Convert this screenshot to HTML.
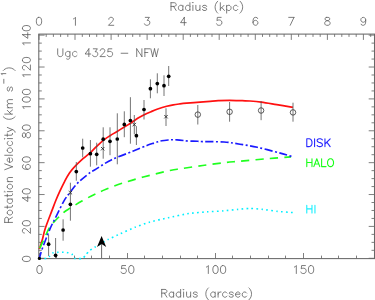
<!DOCTYPE html>
<html><head><meta charset="utf-8"><title>Ugc 4325 - NFW</title>
<style>
html,body{margin:0;padding:0;background:#fff;}
body{width:375px;height:300px;overflow:hidden;position:relative;font-family:"Liberation Sans",sans-serif;}
svg text{font-family:"Liberation Sans",sans-serif;stroke:#fff;stroke-width:0.3px;}
</style></head><body>
<svg width="375" height="300" viewBox="0 0 375 300" style="position:absolute;left:0;top:0">
<rect x="0" y="0" width="375" height="300" fill="#fff"/>
<rect x="38.8" y="34.1" width="335.7" height="224.5" fill="none" stroke="#686868" stroke-width="1.05"/>
<path d="M39.5 258.6 v-5.6 M56.5 258.6 v-3.0 M74.5 258.6 v-3.0 M91.5 258.6 v-3.0 M109.5 258.6 v-3.0 M127.5 258.6 v-5.6 M144.5 258.6 v-3.0 M162.5 258.6 v-3.0 M180.5 258.6 v-3.0 M197.5 258.6 v-3.0 M215.5 258.6 v-5.6 M232.5 258.6 v-3.0 M250.5 258.6 v-3.0 M268.5 258.6 v-3.0 M285.5 258.6 v-3.0 M303.5 258.6 v-5.6 M321.5 258.6 v-3.0 M338.5 258.6 v-3.0 M356.5 258.6 v-3.0 M374.5 258.6 v-3.0 M39.0 34.10 v5.8 M46.2 34.10 v2.8 M53.4 34.10 v2.8 M60.6 34.10 v2.8 M67.8 34.10 v2.8 M75.0 34.10 v5.8 M82.3 34.10 v2.8 M89.5 34.10 v2.8 M96.7 34.10 v2.8 M103.9 34.10 v2.8 M111.1 34.10 v5.8 M118.3 34.10 v2.8 M125.5 34.10 v2.8 M132.7 34.10 v2.8 M139.9 34.10 v2.8 M147.1 34.10 v5.8 M154.4 34.10 v2.8 M161.6 34.10 v2.8 M168.8 34.10 v2.8 M176.0 34.10 v2.8 M183.2 34.10 v5.8 M190.4 34.10 v2.8 M197.6 34.10 v2.8 M204.8 34.10 v2.8 M212.0 34.10 v2.8 M219.2 34.10 v5.8 M226.5 34.10 v2.8 M233.7 34.10 v2.8 M240.9 34.10 v2.8 M248.1 34.10 v2.8 M255.3 34.10 v5.8 M262.5 34.10 v2.8 M269.7 34.10 v2.8 M276.9 34.10 v2.8 M284.1 34.10 v2.8 M291.3 34.10 v5.8 M298.6 34.10 v2.8 M305.8 34.10 v2.8 M313.0 34.10 v2.8 M320.2 34.10 v2.8 M327.4 34.10 v5.8 M334.6 34.10 v2.8 M341.8 34.10 v2.8 M349.0 34.10 v2.8 M356.2 34.10 v2.8 M363.4 34.10 v5.8 M370.7 34.10 v2.8 M38.80 258.30 h5.8 M374.50 258.30 h-5.8 M38.80 250.33 h3.0 M374.50 250.33 h-3.0 M38.80 242.36 h3.0 M374.50 242.36 h-3.0 M38.80 234.39 h3.0 M374.50 234.39 h-3.0 M38.80 226.42 h5.8 M374.50 226.42 h-5.8 M38.80 218.45 h3.0 M374.50 218.45 h-3.0 M38.80 210.48 h3.0 M374.50 210.48 h-3.0 M38.80 202.51 h3.0 M374.50 202.51 h-3.0 M38.80 194.54 h5.8 M374.50 194.54 h-5.8 M38.80 186.57 h3.0 M374.50 186.57 h-3.0 M38.80 178.60 h3.0 M374.50 178.60 h-3.0 M38.80 170.63 h3.0 M374.50 170.63 h-3.0 M38.80 162.66 h5.8 M374.50 162.66 h-5.8 M38.80 154.69 h3.0 M374.50 154.69 h-3.0 M38.80 146.72 h3.0 M374.50 146.72 h-3.0 M38.80 138.75 h3.0 M374.50 138.75 h-3.0 M38.80 130.78 h5.8 M374.50 130.78 h-5.8 M38.80 122.81 h3.0 M374.50 122.81 h-3.0 M38.80 114.84 h3.0 M374.50 114.84 h-3.0 M38.80 106.87 h3.0 M374.50 106.87 h-3.0 M38.80 98.90 h5.8 M374.50 98.90 h-5.8 M38.80 90.93 h3.0 M374.50 90.93 h-3.0 M38.80 82.96 h3.0 M374.50 82.96 h-3.0 M38.80 74.99 h3.0 M374.50 74.99 h-3.0 M38.80 67.02 h5.8 M374.50 67.02 h-5.8 M38.80 59.05 h3.0 M374.50 59.05 h-3.0 M38.80 51.08 h3.0 M374.50 51.08 h-3.0 M38.80 43.11 h3.0 M374.50 43.11 h-3.0 M38.80 35.14 h5.8 M374.50 35.14 h-5.8" stroke="#686868" stroke-width="0.85" fill="none"/>
<path d="M39.30 248.80 C39.43 248.50 39.55 248.68 40.10 247.00 C40.65 245.32 41.72 241.87 42.60 238.70 C43.48 235.53 43.83 232.72 45.40 228.00 C46.97 223.28 50.23 215.07 52.00 210.40 C53.77 205.73 54.67 203.25 56.00 200.00 C57.33 196.75 58.55 194.02 60.00 190.90 C61.45 187.78 63.15 184.23 64.70 181.30 C66.25 178.37 67.63 175.73 69.30 173.30 C70.97 170.87 72.42 169.13 74.70 166.70 C76.98 164.27 80.33 161.10 83.00 158.70 C85.67 156.30 88.42 154.37 90.70 152.30 C92.98 150.23 94.60 148.30 96.70 146.30 C98.80 144.30 101.08 142.07 103.30 140.30 C105.52 138.53 107.77 137.13 110.00 135.70 C112.23 134.27 114.32 133.15 116.70 131.70 C119.08 130.25 121.92 128.45 124.30 127.00 C126.68 125.55 128.77 124.45 131.00 123.00 C133.23 121.55 135.58 119.63 137.70 118.30 C139.82 116.97 141.48 116.10 143.70 115.00 C145.92 113.90 148.67 112.70 151.00 111.70 C153.33 110.70 155.08 109.92 157.70 109.00 C160.32 108.08 164.10 106.90 166.70 106.20 C169.30 105.50 171.08 105.18 173.30 104.80 C175.52 104.42 177.77 104.17 180.00 103.90 C182.23 103.63 183.37 103.50 186.70 103.20 C190.03 102.90 196.12 102.42 200.00 102.10 C203.88 101.78 206.95 101.53 210.00 101.30 C213.05 101.07 215.02 100.87 218.30 100.70 C221.58 100.53 225.70 100.30 229.70 100.30 C233.70 100.30 238.92 100.58 242.30 100.70 C245.68 100.82 246.83 100.77 250.00 101.00 C253.17 101.23 256.85 101.50 261.30 102.10 C265.75 102.70 271.43 103.73 276.70 104.60 C281.97 105.47 290.20 106.85 292.90 107.30" fill="none" stroke="#ff1010" stroke-width="1.7" stroke-linejoin="round"/>
<path d="M39.50 248.60 C40.08 247.38 41.90 243.67 43.00 241.30 C44.10 238.93 45.05 236.62 46.10 234.40 C47.15 232.18 48.18 229.87 49.30 228.00 C50.42 226.13 50.48 225.73 52.80 223.20 C55.12 220.67 60.27 215.33 63.20 212.80 C66.13 210.27 67.20 210.00 70.40 208.00 C73.60 206.00 78.40 203.07 82.40 200.80 C86.40 198.53 90.47 196.32 94.40 194.40 C98.33 192.48 101.40 191.15 106.00 189.30 C110.60 187.45 115.78 185.35 122.00 183.30 C128.22 181.25 135.30 179.13 143.30 177.00 C151.30 174.87 163.67 171.88 170.00 170.50 C176.33 169.12 175.85 169.53 181.30 168.70 C186.75 167.87 195.58 166.50 202.70 165.50 C209.82 164.50 217.73 163.42 224.00 162.70 C230.27 161.98 232.97 161.88 240.30 161.20 C247.63 160.52 259.55 159.32 268.00 158.60 C276.45 157.88 287.17 157.18 291.00 156.90" fill="none" stroke="#1fff1f" stroke-width="1.65" stroke-dasharray="8.2 6.2" stroke-dashoffset="-0.6"/>
<path d="M39.50 258.00 C39.98 256.38 40.58 253.30 42.40 248.30 C44.22 243.30 48.00 233.52 50.40 228.00 C52.80 222.48 54.53 219.73 56.80 215.20 C59.07 210.67 61.73 204.67 64.00 200.80 C66.27 196.93 68.07 195.02 70.40 192.00 C72.73 188.98 74.73 185.92 78.00 182.70 C81.27 179.48 87.25 174.82 90.00 172.70 C92.75 170.58 90.95 172.13 94.50 170.00 C98.05 167.87 104.93 163.02 111.30 159.90 C117.67 156.78 126.68 153.73 132.70 151.30 C138.72 148.87 143.88 146.67 147.40 145.30 C150.92 143.93 152.07 143.68 153.80 143.10 C155.53 142.52 156.47 142.20 157.80 141.80 C159.13 141.40 159.93 141.02 161.80 140.70 C163.67 140.38 167.22 140.07 169.00 139.90 C170.78 139.73 171.17 139.70 172.50 139.70 C173.83 139.70 175.18 139.77 177.00 139.90 C178.82 140.03 181.67 140.32 183.40 140.50 C185.13 140.68 185.00 140.87 187.40 141.00 C189.80 141.13 195.25 141.20 197.80 141.30 C200.35 141.40 198.33 141.48 202.70 141.60 C207.07 141.72 217.78 141.57 224.00 142.00 C230.22 142.43 234.45 143.32 240.00 144.20 C245.55 145.08 250.85 145.88 257.30 147.30 C263.75 148.72 272.92 151.17 278.70 152.70 C284.48 154.23 289.78 155.87 292.00 156.50" fill="none" stroke="#1a1aff" stroke-width="1.65" stroke-dasharray="8 2.5 2 2.5" stroke-dashoffset="1.4"/>
<path d="M39.00 258.40 C39.62 258.40 45.65 258.54 46.50 258.40 C47.35 258.26 48.71 257.14 49.20 256.70 C49.69 256.26 51.73 253.46 52.40 253.10 C53.07 252.74 56.40 252.47 57.20 252.40 C58.00 252.33 61.20 252.20 62.00 252.20 C62.80 252.20 65.98 252.25 66.80 252.40 C67.62 252.55 71.17 253.51 71.80 254.00 C72.43 254.49 73.78 257.92 74.40 258.30 C75.02 258.68 78.57 258.58 79.20 258.60 C79.83 258.62 81.63 258.58 82.00 258.50 C82.37 258.42 83.27 257.94 83.60 257.60 C83.93 257.26 85.47 255.00 86.00 254.40 C86.53 253.80 89.27 251.00 90.00 250.40 C90.73 249.80 93.30 248.11 94.80 247.20 C96.30 246.29 105.86 240.62 108.00 239.50 C110.14 238.38 118.25 234.72 120.50 233.70 C122.75 232.68 132.60 228.26 135.00 227.30 C137.40 226.34 146.52 223.00 149.30 222.20 C152.08 221.40 165.12 218.42 168.40 217.70 C171.68 216.97 185.41 213.99 188.70 213.50 C191.99 213.01 205.03 212.02 207.90 211.80 C210.78 211.58 220.68 211.10 223.20 210.90 C225.72 210.70 235.88 209.61 238.10 209.40 C240.32 209.19 247.85 208.40 249.90 208.40 C251.95 208.40 260.39 209.15 262.70 209.40 C265.01 209.65 275.07 211.13 277.60 211.40 C280.13 211.67 291.81 212.50 293.10 212.60" fill="none" stroke="#00f0ff" stroke-width="1.6" stroke-dasharray="1.7 3.26" stroke-dashoffset="-0.4"/>
<line x1="48.6" y1="234.7" x2="48.6" y2="256.0" stroke="#505050" stroke-width="0.8"/>
<line x1="55.6" y1="238.0" x2="55.6" y2="258.0" stroke="#505050" stroke-width="0.8"/>
<line x1="63.1" y1="219.3" x2="63.1" y2="240.7" stroke="#505050" stroke-width="0.8"/>
<line x1="70.4" y1="182.7" x2="70.4" y2="220.7" stroke="#505050" stroke-width="0.8"/>
<line x1="76.3" y1="162.0" x2="76.3" y2="180.7" stroke="#505050" stroke-width="0.8"/>
<line x1="82.7" y1="138.7" x2="82.7" y2="157.3" stroke="#505050" stroke-width="0.8"/>
<line x1="90.4" y1="140.0" x2="90.4" y2="166.7" stroke="#505050" stroke-width="0.8"/>
<line x1="96.7" y1="142.7" x2="96.7" y2="165.3" stroke="#505050" stroke-width="0.8"/>
<line x1="103.2" y1="127.3" x2="103.2" y2="158.7" stroke="#505050" stroke-width="0.8"/>
<line x1="110.0" y1="127.3" x2="110.0" y2="155.2" stroke="#505050" stroke-width="0.8"/>
<line x1="117.3" y1="113.3" x2="117.3" y2="164.3" stroke="#505050" stroke-width="0.8"/>
<line x1="124.3" y1="111.3" x2="124.3" y2="137.2" stroke="#505050" stroke-width="0.8"/>
<line x1="130.4" y1="97.2" x2="130.4" y2="143.7" stroke="#505050" stroke-width="0.8"/>
<line x1="136.4" y1="126.3" x2="136.4" y2="145.0" stroke="#505050" stroke-width="0.8"/>
<line x1="144.0" y1="100.0" x2="144.0" y2="119.5" stroke="#505050" stroke-width="0.8"/>
<line x1="150.4" y1="79.3" x2="150.4" y2="98.3" stroke="#505050" stroke-width="0.8"/>
<line x1="157.3" y1="73.3" x2="157.3" y2="93.3" stroke="#505050" stroke-width="0.8"/>
<line x1="164.0" y1="75.3" x2="164.0" y2="96.0" stroke="#505050" stroke-width="0.8"/>
<line x1="168.7" y1="66.0" x2="168.7" y2="86.0" stroke="#505050" stroke-width="0.8"/>
<line x1="134.3" y1="115.0" x2="134.3" y2="134.3" stroke="#505050" stroke-width="0.8"/>
<line x1="166.0" y1="108.3" x2="166.0" y2="126.0" stroke="#505050" stroke-width="0.8"/>
<line x1="197.8" y1="105.0" x2="197.8" y2="124.5" stroke="#505050" stroke-width="0.8"/>
<line x1="229.6" y1="102.0" x2="229.6" y2="121.7" stroke="#505050" stroke-width="0.8"/>
<line x1="261.1" y1="101.2" x2="261.1" y2="120.2" stroke="#505050" stroke-width="0.8"/>
<line x1="293.0" y1="102.7" x2="293.0" y2="121.7" stroke="#505050" stroke-width="0.8"/>
<circle cx="39.4" cy="258.4" r="1.6" fill="#000"/>
<circle cx="48.6" cy="244.2" r="1.85" fill="#000"/>
<circle cx="55.6" cy="255.3" r="1.85" fill="#000"/>
<circle cx="63.1" cy="230.0" r="1.85" fill="#000"/>
<circle cx="70.4" cy="204.3" r="1.85" fill="#000"/>
<circle cx="76.3" cy="171.6" r="1.85" fill="#000"/>
<circle cx="82.7" cy="148.0" r="1.85" fill="#000"/>
<circle cx="90.4" cy="153.7" r="1.85" fill="#000"/>
<circle cx="96.7" cy="154.3" r="1.85" fill="#000"/>
<circle cx="103.2" cy="139.2" r="1.85" fill="#000"/>
<circle cx="110.0" cy="141.3" r="1.85" fill="#000"/>
<circle cx="117.3" cy="139.0" r="1.85" fill="#000"/>
<circle cx="124.3" cy="124.4" r="1.85" fill="#000"/>
<circle cx="130.4" cy="120.5" r="1.85" fill="#000"/>
<circle cx="136.4" cy="135.7" r="1.85" fill="#000"/>
<circle cx="144.0" cy="109.5" r="1.85" fill="#000"/>
<circle cx="150.4" cy="88.7" r="1.85" fill="#000"/>
<circle cx="157.3" cy="83.6" r="1.85" fill="#000"/>
<circle cx="164.0" cy="85.7" r="1.85" fill="#000"/>
<circle cx="168.7" cy="76.3" r="1.85" fill="#000"/>
<path d="M68.7 191.0 L72.1 194.4 M68.7 194.4 L72.1 191.0" stroke="#222" stroke-width="0.85" fill="none"/>
<path d="M101.0 147.0 L104.4 150.4 M101.0 150.4 L104.4 147.0" stroke="#222" stroke-width="0.85" fill="none"/>
<path d="M132.6 122.9 L136.0 126.3 M132.6 126.3 L136.0 122.9" stroke="#222" stroke-width="0.85" fill="none"/>
<path d="M164.3 115.0 L167.7 118.4 M164.3 118.4 L167.7 115.0" stroke="#222" stroke-width="0.85" fill="none"/>
<circle cx="197.8" cy="114.6" r="2.75" fill="none" stroke="#333" stroke-width="0.8"/>
<circle cx="229.6" cy="111.8" r="2.75" fill="none" stroke="#333" stroke-width="0.8"/>
<circle cx="261.1" cy="110.5" r="2.75" fill="none" stroke="#333" stroke-width="0.8"/>
<circle cx="293.0" cy="112.4" r="2.75" fill="none" stroke="#333" stroke-width="0.8"/>
<line x1="101.6" y1="258" x2="101.6" y2="244" stroke="#444" stroke-width="0.8"/>
<path d="M101.6 236.0 L106.2 247.1 L101.6 244 L97.0 247.1 Z" fill="#000"/>
<path transform="translate(39.00 25.30)" d="M-0.38 -7.94 L-1.51 -7.56 L-2.27 -6.43 L-2.65 -4.54 L-2.65 -3.40 L-2.27 -1.51 L-1.51 -0.38 L-0.38 -0.00 L0.38 -0.00 L1.51 -0.38 L2.27 -1.51 L2.65 -3.40 L2.65 -4.54 L2.27 -6.43 L1.51 -7.56 L0.38 -7.94 L-0.38 -7.94" fill="none" stroke="#585858" stroke-width="0.78" stroke-linecap="round" stroke-linejoin="round"/>
<path transform="translate(75.05 25.30)" d="M-1.51 -6.43 L-0.76 -6.80 L0.38 -7.94 L0.38 -0.00" fill="none" stroke="#585858" stroke-width="0.78" stroke-linecap="round" stroke-linejoin="round"/>
<path transform="translate(111.10 25.30)" d="M-2.27 -6.05 L-2.27 -6.43 L-1.89 -7.18 L-1.51 -7.56 L-0.76 -7.94 L0.76 -7.94 L1.51 -7.56 L1.89 -7.18 L2.27 -6.43 L2.27 -5.67 L1.89 -4.91 L1.13 -3.78 L-2.65 -0.00 L2.65 -0.00" fill="none" stroke="#585858" stroke-width="0.78" stroke-linecap="round" stroke-linejoin="round"/>
<path transform="translate(147.15 25.30)" d="M-1.89 -7.94 L2.27 -7.94 L0.00 -4.91 L1.13 -4.91 L1.89 -4.54 L2.27 -4.16 L2.65 -3.02 L2.65 -2.27 L2.27 -1.13 L1.51 -0.38 L0.38 -0.00 L-0.76 -0.00 L-1.89 -0.38 L-2.27 -0.76 L-2.65 -1.51" fill="none" stroke="#585858" stroke-width="0.78" stroke-linecap="round" stroke-linejoin="round"/>
<path transform="translate(183.20 25.30)" d="M1.13 -7.94 L-2.65 -2.65 L3.02 -2.65 M1.13 -7.94 L1.13 -0.00" fill="none" stroke="#585858" stroke-width="0.78" stroke-linecap="round" stroke-linejoin="round"/>
<path transform="translate(219.25 25.30)" d="M1.89 -7.94 L-1.89 -7.94 L-2.27 -4.54 L-1.89 -4.91 L-0.76 -5.29 L0.38 -5.29 L1.51 -4.91 L2.27 -4.16 L2.65 -3.02 L2.65 -2.27 L2.27 -1.13 L1.51 -0.38 L0.38 -0.00 L-0.76 -0.00 L-1.89 -0.38 L-2.27 -0.76 L-2.65 -1.51" fill="none" stroke="#585858" stroke-width="0.78" stroke-linecap="round" stroke-linejoin="round"/>
<path transform="translate(255.30 25.30)" d="M2.27 -6.80 L1.89 -7.56 L0.76 -7.94 L0.00 -7.94 L-1.13 -7.56 L-1.89 -6.43 L-2.27 -4.54 L-2.27 -2.65 L-1.89 -1.13 L-1.13 -0.38 L0.00 -0.00 L0.38 -0.00 L1.51 -0.38 L2.27 -1.13 L2.65 -2.27 L2.65 -2.65 L2.27 -3.78 L1.51 -4.54 L0.38 -4.91 L0.00 -4.91 L-1.13 -4.54 L-1.89 -3.78 L-2.27 -2.65" fill="none" stroke="#585858" stroke-width="0.78" stroke-linecap="round" stroke-linejoin="round"/>
<path transform="translate(291.35 25.30)" d="M2.65 -7.94 L-1.13 -0.00 M-2.65 -7.94 L2.65 -7.94" fill="none" stroke="#585858" stroke-width="0.78" stroke-linecap="round" stroke-linejoin="round"/>
<path transform="translate(327.40 25.30)" d="M-0.76 -7.94 L-1.89 -7.56 L-2.27 -6.80 L-2.27 -6.05 L-1.89 -5.29 L-1.13 -4.91 L0.38 -4.54 L1.51 -4.16 L2.27 -3.40 L2.65 -2.65 L2.65 -1.51 L2.27 -0.76 L1.89 -0.38 L0.76 -0.00 L-0.76 -0.00 L-1.89 -0.38 L-2.27 -0.76 L-2.65 -1.51 L-2.65 -2.65 L-2.27 -3.40 L-1.51 -4.16 L-0.38 -4.54 L1.13 -4.91 L1.89 -5.29 L2.27 -6.05 L2.27 -6.80 L1.89 -7.56 L0.76 -7.94 L-0.76 -7.94" fill="none" stroke="#585858" stroke-width="0.78" stroke-linecap="round" stroke-linejoin="round"/>
<path transform="translate(363.45 25.30)" d="M2.27 -5.29 L1.89 -4.16 L1.13 -3.40 L0.00 -3.02 L-0.38 -3.02 L-1.51 -3.40 L-2.27 -4.16 L-2.65 -5.29 L-2.65 -5.67 L-2.27 -6.80 L-1.51 -7.56 L-0.38 -7.94 L0.00 -7.94 L1.13 -7.56 L1.89 -6.80 L2.27 -5.29 L2.27 -3.40 L1.89 -1.51 L1.13 -0.38 L0.00 -0.00 L-0.76 -0.00 L-1.89 -0.38 L-2.27 -1.13" fill="none" stroke="#585858" stroke-width="0.78" stroke-linecap="round" stroke-linejoin="round"/>
<path transform="translate(39.50 273.50)" d="M-0.38 -7.94 L-1.51 -7.56 L-2.27 -6.43 L-2.65 -4.54 L-2.65 -3.40 L-2.27 -1.51 L-1.51 -0.38 L-0.38 -0.00 L0.38 -0.00 L1.51 -0.38 L2.27 -1.51 L2.65 -3.40 L2.65 -4.54 L2.27 -6.43 L1.51 -7.56 L0.38 -7.94 L-0.38 -7.94" fill="none" stroke="#585858" stroke-width="0.78" stroke-linecap="round" stroke-linejoin="round"/>
<path transform="translate(127.50 273.50)" d="M-1.89 -7.94 L-5.67 -7.94 L-6.05 -4.54 L-5.67 -4.91 L-4.54 -5.29 L-3.40 -5.29 L-2.27 -4.91 L-1.51 -4.16 L-1.13 -3.02 L-1.13 -2.27 L-1.51 -1.13 L-2.27 -0.38 L-3.40 -0.00 L-4.54 -0.00 L-5.67 -0.38 L-6.05 -0.76 L-6.43 -1.51 M3.40 -7.94 L2.27 -7.56 L1.51 -6.43 L1.13 -4.54 L1.13 -3.40 L1.51 -1.51 L2.27 -0.38 L3.40 -0.00 L4.16 -0.00 L5.29 -0.38 L6.05 -1.51 L6.43 -3.40 L6.43 -4.54 L6.05 -6.43 L5.29 -7.56 L4.16 -7.94 L3.40 -7.94" fill="none" stroke="#585858" stroke-width="0.78" stroke-linecap="round" stroke-linejoin="round"/>
<path transform="translate(215.50 273.50)" d="M-9.07 -6.43 L-8.32 -6.80 L-7.18 -7.94 L-7.18 -0.00 M-0.38 -7.94 L-1.51 -7.56 L-2.27 -6.43 L-2.65 -4.54 L-2.65 -3.40 L-2.27 -1.51 L-1.51 -0.38 L-0.38 -0.00 L0.38 -0.00 L1.51 -0.38 L2.27 -1.51 L2.65 -3.40 L2.65 -4.54 L2.27 -6.43 L1.51 -7.56 L0.38 -7.94 L-0.38 -7.94 M7.18 -7.94 L6.05 -7.56 L5.29 -6.43 L4.91 -4.54 L4.91 -3.40 L5.29 -1.51 L6.05 -0.38 L7.18 -0.00 L7.94 -0.00 L9.07 -0.38 L9.83 -1.51 L10.21 -3.40 L10.21 -4.54 L9.83 -6.43 L9.07 -7.56 L7.94 -7.94 L7.18 -7.94" fill="none" stroke="#585858" stroke-width="0.78" stroke-linecap="round" stroke-linejoin="round"/>
<path transform="translate(303.50 273.50)" d="M-9.07 -6.43 L-8.32 -6.80 L-7.18 -7.94 L-7.18 -0.00 M1.89 -7.94 L-1.89 -7.94 L-2.27 -4.54 L-1.89 -4.91 L-0.76 -5.29 L0.38 -5.29 L1.51 -4.91 L2.27 -4.16 L2.65 -3.02 L2.65 -2.27 L2.27 -1.13 L1.51 -0.38 L0.38 -0.00 L-0.76 -0.00 L-1.89 -0.38 L-2.27 -0.76 L-2.65 -1.51 M7.18 -7.94 L6.05 -7.56 L5.29 -6.43 L4.91 -4.54 L4.91 -3.40 L5.29 -1.51 L6.05 -0.38 L7.18 -0.00 L7.94 -0.00 L9.07 -0.38 L9.83 -1.51 L10.21 -3.40 L10.21 -4.54 L9.83 -6.43 L9.07 -7.56 L7.94 -7.94 L7.18 -7.94" fill="none" stroke="#585858" stroke-width="0.78" stroke-linecap="round" stroke-linejoin="round"/>
<path transform="translate(30.40 258.90) rotate(-90)" d="M-0.38 -7.94 L-1.51 -7.56 L-2.27 -6.43 L-2.65 -4.54 L-2.65 -3.40 L-2.27 -1.51 L-1.51 -0.38 L-0.38 -0.00 L0.38 -0.00 L1.51 -0.38 L2.27 -1.51 L2.65 -3.40 L2.65 -4.54 L2.27 -6.43 L1.51 -7.56 L0.38 -7.94 L-0.38 -7.94" fill="none" stroke="#585858" stroke-width="0.78" stroke-linecap="round" stroke-linejoin="round"/>
<path transform="translate(30.40 227.02) rotate(-90)" d="M-6.05 -6.05 L-6.05 -6.43 L-5.67 -7.18 L-5.29 -7.56 L-4.54 -7.94 L-3.02 -7.94 L-2.27 -7.56 L-1.89 -7.18 L-1.51 -6.43 L-1.51 -5.67 L-1.89 -4.91 L-2.65 -3.78 L-6.43 -0.00 L-1.13 -0.00 M3.40 -7.94 L2.27 -7.56 L1.51 -6.43 L1.13 -4.54 L1.13 -3.40 L1.51 -1.51 L2.27 -0.38 L3.40 -0.00 L4.16 -0.00 L5.29 -0.38 L6.05 -1.51 L6.43 -3.40 L6.43 -4.54 L6.05 -6.43 L5.29 -7.56 L4.16 -7.94 L3.40 -7.94" fill="none" stroke="#585858" stroke-width="0.78" stroke-linecap="round" stroke-linejoin="round"/>
<path transform="translate(30.40 195.14) rotate(-90)" d="M-2.65 -7.94 L-6.43 -2.65 L-0.76 -2.65 M-2.65 -7.94 L-2.65 -0.00 M3.40 -7.94 L2.27 -7.56 L1.51 -6.43 L1.13 -4.54 L1.13 -3.40 L1.51 -1.51 L2.27 -0.38 L3.40 -0.00 L4.16 -0.00 L5.29 -0.38 L6.05 -1.51 L6.43 -3.40 L6.43 -4.54 L6.05 -6.43 L5.29 -7.56 L4.16 -7.94 L3.40 -7.94" fill="none" stroke="#585858" stroke-width="0.78" stroke-linecap="round" stroke-linejoin="round"/>
<path transform="translate(30.40 163.26) rotate(-90)" d="M-1.51 -6.80 L-1.89 -7.56 L-3.02 -7.94 L-3.78 -7.94 L-4.91 -7.56 L-5.67 -6.43 L-6.05 -4.54 L-6.05 -2.65 L-5.67 -1.13 L-4.91 -0.38 L-3.78 -0.00 L-3.40 -0.00 L-2.27 -0.38 L-1.51 -1.13 L-1.13 -2.27 L-1.13 -2.65 L-1.51 -3.78 L-2.27 -4.54 L-3.40 -4.91 L-3.78 -4.91 L-4.91 -4.54 L-5.67 -3.78 L-6.05 -2.65 M3.40 -7.94 L2.27 -7.56 L1.51 -6.43 L1.13 -4.54 L1.13 -3.40 L1.51 -1.51 L2.27 -0.38 L3.40 -0.00 L4.16 -0.00 L5.29 -0.38 L6.05 -1.51 L6.43 -3.40 L6.43 -4.54 L6.05 -6.43 L5.29 -7.56 L4.16 -7.94 L3.40 -7.94" fill="none" stroke="#585858" stroke-width="0.78" stroke-linecap="round" stroke-linejoin="round"/>
<path transform="translate(30.40 131.38) rotate(-90)" d="M-4.54 -7.94 L-5.67 -7.56 L-6.05 -6.80 L-6.05 -6.05 L-5.67 -5.29 L-4.91 -4.91 L-3.40 -4.54 L-2.27 -4.16 L-1.51 -3.40 L-1.13 -2.65 L-1.13 -1.51 L-1.51 -0.76 L-1.89 -0.38 L-3.02 -0.00 L-4.54 -0.00 L-5.67 -0.38 L-6.05 -0.76 L-6.43 -1.51 L-6.43 -2.65 L-6.05 -3.40 L-5.29 -4.16 L-4.16 -4.54 L-2.65 -4.91 L-1.89 -5.29 L-1.51 -6.05 L-1.51 -6.80 L-1.89 -7.56 L-3.02 -7.94 L-4.54 -7.94 M3.40 -7.94 L2.27 -7.56 L1.51 -6.43 L1.13 -4.54 L1.13 -3.40 L1.51 -1.51 L2.27 -0.38 L3.40 -0.00 L4.16 -0.00 L5.29 -0.38 L6.05 -1.51 L6.43 -3.40 L6.43 -4.54 L6.05 -6.43 L5.29 -7.56 L4.16 -7.94 L3.40 -7.94" fill="none" stroke="#585858" stroke-width="0.78" stroke-linecap="round" stroke-linejoin="round"/>
<path transform="translate(30.40 99.50) rotate(-90)" d="M-9.07 -6.43 L-8.32 -6.80 L-7.18 -7.94 L-7.18 -0.00 M-0.38 -7.94 L-1.51 -7.56 L-2.27 -6.43 L-2.65 -4.54 L-2.65 -3.40 L-2.27 -1.51 L-1.51 -0.38 L-0.38 -0.00 L0.38 -0.00 L1.51 -0.38 L2.27 -1.51 L2.65 -3.40 L2.65 -4.54 L2.27 -6.43 L1.51 -7.56 L0.38 -7.94 L-0.38 -7.94 M7.18 -7.94 L6.05 -7.56 L5.29 -6.43 L4.91 -4.54 L4.91 -3.40 L5.29 -1.51 L6.05 -0.38 L7.18 -0.00 L7.94 -0.00 L9.07 -0.38 L9.83 -1.51 L10.21 -3.40 L10.21 -4.54 L9.83 -6.43 L9.07 -7.56 L7.94 -7.94 L7.18 -7.94" fill="none" stroke="#585858" stroke-width="0.78" stroke-linecap="round" stroke-linejoin="round"/>
<path transform="translate(30.40 67.62) rotate(-90)" d="M-9.07 -6.43 L-8.32 -6.80 L-7.18 -7.94 L-7.18 -0.00 M-2.27 -6.05 L-2.27 -6.43 L-1.89 -7.18 L-1.51 -7.56 L-0.76 -7.94 L0.76 -7.94 L1.51 -7.56 L1.89 -7.18 L2.27 -6.43 L2.27 -5.67 L1.89 -4.91 L1.13 -3.78 L-2.65 -0.00 L2.65 -0.00 M7.18 -7.94 L6.05 -7.56 L5.29 -6.43 L4.91 -4.54 L4.91 -3.40 L5.29 -1.51 L6.05 -0.38 L7.18 -0.00 L7.94 -0.00 L9.07 -0.38 L9.83 -1.51 L10.21 -3.40 L10.21 -4.54 L9.83 -6.43 L9.07 -7.56 L7.94 -7.94 L7.18 -7.94" fill="none" stroke="#585858" stroke-width="0.78" stroke-linecap="round" stroke-linejoin="round"/>
<path transform="translate(30.40 35.74) rotate(-90)" d="M-9.07 -6.43 L-8.32 -6.80 L-7.18 -7.94 L-7.18 -0.00 M1.13 -7.94 L-2.65 -2.65 L3.02 -2.65 M1.13 -7.94 L1.13 -0.00 M7.18 -7.94 L6.05 -7.56 L5.29 -6.43 L4.91 -4.54 L4.91 -3.40 L5.29 -1.51 L6.05 -0.38 L7.18 -0.00 L7.94 -0.00 L9.07 -0.38 L9.83 -1.51 L10.21 -3.40 L10.21 -4.54 L9.83 -6.43 L9.07 -7.56 L7.94 -7.94 L7.18 -7.94" fill="none" stroke="#585858" stroke-width="0.78" stroke-linecap="round" stroke-linejoin="round"/>
<path transform="translate(206.80 10.50)" d="M-35.80 -7.79 L-35.80 -0.00 M-35.80 -7.79 L-32.46 -7.79 L-31.35 -7.42 L-30.98 -7.05 L-30.61 -6.31 L-30.61 -5.56 L-30.98 -4.82 L-31.35 -4.45 L-32.46 -4.08 L-35.80 -4.08 M-33.20 -4.08 L-30.61 -0.00 M-23.93 -5.19 L-23.93 -0.00 M-23.93 -4.08 L-24.67 -4.82 L-25.41 -5.19 L-26.53 -5.19 L-27.27 -4.82 L-28.01 -4.08 L-28.38 -2.97 L-28.38 -2.23 L-28.01 -1.11 L-27.27 -0.37 L-26.53 -0.00 L-25.41 -0.00 L-24.67 -0.37 L-23.93 -1.11 M-16.88 -7.79 L-16.88 -0.00 M-16.88 -4.08 L-17.62 -4.82 L-18.36 -5.19 L-19.48 -5.19 L-20.22 -4.82 L-20.96 -4.08 L-21.33 -2.97 L-21.33 -2.23 L-20.96 -1.11 L-20.22 -0.37 L-19.48 -0.00 L-18.36 -0.00 L-17.62 -0.37 L-16.88 -1.11 M-14.28 -7.79 L-13.91 -7.42 L-13.54 -7.79 L-13.91 -8.16 L-14.28 -7.79 M-13.91 -5.19 L-13.91 -0.00 M-10.94 -5.19 L-10.94 -1.48 L-10.57 -0.37 L-9.83 -0.00 L-8.72 -0.00 L-7.98 -0.37 L-6.86 -1.48 M-6.86 -5.19 L-6.86 -0.00 M-0.19 -4.08 L-0.56 -4.82 L-1.67 -5.19 L-2.78 -5.19 L-3.90 -4.82 L-4.27 -4.08 L-3.90 -3.34 L-3.15 -2.97 L-1.30 -2.60 L-0.56 -2.23 L-0.19 -1.48 L-0.19 -1.11 L-0.56 -0.37 L-1.67 -0.00 L-2.78 -0.00 L-3.90 -0.37 L-4.27 -1.11 M10.94 -9.28 L10.20 -8.53 L9.46 -7.42 L8.72 -5.94 L8.35 -4.08 L8.35 -2.60 L8.72 -0.74 L9.46 0.74 L10.20 1.85 L10.94 2.60 M13.54 -7.79 L13.54 -0.00 M17.25 -5.19 L13.54 -1.48 M15.03 -2.97 L17.62 -0.00 M19.85 -5.19 L19.85 2.60 M19.85 -4.08 L20.59 -4.82 L21.33 -5.19 L22.45 -5.19 L23.19 -4.82 L23.93 -4.08 L24.30 -2.97 L24.30 -2.23 L23.93 -1.11 L23.19 -0.37 L22.45 -0.00 L21.33 -0.00 L20.59 -0.37 L19.85 -1.11 M30.98 -4.08 L30.24 -4.82 L29.49 -5.19 L28.38 -5.19 L27.64 -4.82 L26.90 -4.08 L26.53 -2.97 L26.53 -2.23 L26.90 -1.11 L27.64 -0.37 L28.38 -0.00 L29.49 -0.00 L30.24 -0.37 L30.98 -1.11 M33.20 -9.28 L33.95 -8.53 L34.69 -7.42 L35.43 -5.94 L35.80 -4.08 L35.80 -2.60 L35.43 -0.74 L34.69 0.74 L33.95 1.85 L33.20 2.60" fill="none" stroke="#585858" stroke-width="0.78" stroke-linecap="round" stroke-linejoin="round"/>
<path transform="translate(206.60 297.20)" d="M-44.89 -7.79 L-44.89 -0.00 M-44.89 -7.79 L-41.55 -7.79 L-40.44 -7.42 L-40.07 -7.05 L-39.70 -6.31 L-39.70 -5.56 L-40.07 -4.82 L-40.44 -4.45 L-41.55 -4.08 L-44.89 -4.08 M-42.29 -4.08 L-39.70 -0.00 M-33.02 -5.19 L-33.02 -0.00 M-33.02 -4.08 L-33.76 -4.82 L-34.50 -5.19 L-35.62 -5.19 L-36.36 -4.82 L-37.10 -4.08 L-37.47 -2.97 L-37.47 -2.23 L-37.10 -1.11 L-36.36 -0.37 L-35.62 -0.00 L-34.50 -0.00 L-33.76 -0.37 L-33.02 -1.11 M-25.97 -7.79 L-25.97 -0.00 M-25.97 -4.08 L-26.71 -4.82 L-27.45 -5.19 L-28.57 -5.19 L-29.31 -4.82 L-30.05 -4.08 L-30.42 -2.97 L-30.42 -2.23 L-30.05 -1.11 L-29.31 -0.37 L-28.57 -0.00 L-27.45 -0.00 L-26.71 -0.37 L-25.97 -1.11 M-23.37 -7.79 L-23.00 -7.42 L-22.63 -7.79 L-23.00 -8.16 L-23.37 -7.79 M-23.00 -5.19 L-23.00 -0.00 M-20.03 -5.19 L-20.03 -1.48 L-19.66 -0.37 L-18.92 -0.00 L-17.81 -0.00 L-17.07 -0.37 L-15.95 -1.48 M-15.95 -5.19 L-15.95 -0.00 M-9.28 -4.08 L-9.65 -4.82 L-10.76 -5.19 L-11.87 -5.19 L-12.99 -4.82 L-13.36 -4.08 L-12.99 -3.34 L-12.24 -2.97 L-10.39 -2.60 L-9.65 -2.23 L-9.28 -1.48 L-9.28 -1.11 L-9.65 -0.37 L-10.76 -0.00 L-11.87 -0.00 L-12.99 -0.37 L-13.36 -1.11 M1.85 -9.28 L1.11 -8.53 L0.37 -7.42 L-0.37 -5.94 L-0.74 -4.08 L-0.74 -2.60 L-0.37 -0.74 L0.37 0.74 L1.11 1.85 L1.85 2.60 M8.53 -5.19 L8.53 -0.00 M8.53 -4.08 L7.79 -4.82 L7.05 -5.19 L5.94 -5.19 L5.19 -4.82 L4.45 -4.08 L4.08 -2.97 L4.08 -2.23 L4.45 -1.11 L5.19 -0.37 L5.94 -0.00 L7.05 -0.00 L7.79 -0.37 L8.53 -1.11 M11.50 -5.19 L11.50 -0.00 M11.50 -2.97 L11.87 -4.08 L12.61 -4.82 L13.36 -5.19 L14.47 -5.19 M20.40 -4.08 L19.66 -4.82 L18.92 -5.19 L17.81 -5.19 L17.07 -4.82 L16.32 -4.08 L15.95 -2.97 L15.95 -2.23 L16.32 -1.11 L17.07 -0.37 L17.81 -0.00 L18.92 -0.00 L19.66 -0.37 L20.40 -1.11 M26.71 -4.08 L26.34 -4.82 L25.23 -5.19 L24.11 -5.19 L23.00 -4.82 L22.63 -4.08 L23.00 -3.34 L23.74 -2.97 L25.60 -2.60 L26.34 -2.23 L26.71 -1.48 L26.71 -1.11 L26.34 -0.37 L25.23 -0.00 L24.11 -0.00 L23.00 -0.37 L22.63 -1.11 M28.94 -2.97 L33.39 -2.97 L33.39 -3.71 L33.02 -4.45 L32.65 -4.82 L31.91 -5.19 L30.79 -5.19 L30.05 -4.82 L29.31 -4.08 L28.94 -2.97 L28.94 -2.23 L29.31 -1.11 L30.05 -0.37 L30.79 -0.00 L31.91 -0.00 L32.65 -0.37 L33.39 -1.11 M40.07 -4.08 L39.33 -4.82 L38.58 -5.19 L37.47 -5.19 L36.73 -4.82 L35.99 -4.08 L35.62 -2.97 L35.62 -2.23 L35.99 -1.11 L36.73 -0.37 L37.47 -0.00 L38.58 -0.00 L39.33 -0.37 L40.07 -1.11 M42.29 -9.28 L43.04 -8.53 L43.78 -7.42 L44.52 -5.94 L44.89 -4.08 L44.89 -2.60 L44.52 -0.74 L43.78 0.74 L43.04 1.85 L42.29 2.60" fill="none" stroke="#585858" stroke-width="0.78" stroke-linecap="round" stroke-linejoin="round"/>
<path transform="translate(12.50 223.90) rotate(-90)" d="M1.48 -7.79 L1.48 -0.00 M1.48 -7.79 L4.82 -7.79 L5.94 -7.42 L6.31 -7.05 L6.68 -6.31 L6.68 -5.56 L6.31 -4.82 L5.94 -4.45 L4.82 -4.08 L1.48 -4.08 M4.08 -4.08 L6.68 -0.00 M10.76 -5.19 L10.02 -4.82 L9.28 -4.08 L8.90 -2.97 L8.90 -2.23 L9.28 -1.11 L10.02 -0.37 L10.76 -0.00 L11.87 -0.00 L12.61 -0.37 L13.36 -1.11 L13.73 -2.23 L13.73 -2.97 L13.36 -4.08 L12.61 -4.82 L11.87 -5.19 L10.76 -5.19 M16.70 -7.79 L16.70 -1.48 L17.07 -0.37 L17.81 -0.00 L18.55 -0.00 M15.58 -5.19 L18.18 -5.19 M24.86 -5.19 L24.86 -0.00 M24.86 -4.08 L24.12 -4.82 L23.37 -5.19 L22.26 -5.19 L21.52 -4.82 L20.78 -4.08 L20.41 -2.97 L20.41 -2.23 L20.78 -1.11 L21.52 -0.37 L22.26 -0.00 L23.37 -0.00 L24.12 -0.37 L24.86 -1.11 M28.20 -7.79 L28.20 -1.48 L28.57 -0.37 L29.31 -0.00 L30.05 -0.00 M27.08 -5.19 L29.68 -5.19 M31.91 -7.79 L32.28 -7.42 L32.65 -7.79 L32.28 -8.16 L31.91 -7.79 M32.28 -5.19 L32.28 -0.00 M36.73 -5.19 L35.99 -4.82 L35.24 -4.08 L34.87 -2.97 L34.87 -2.23 L35.24 -1.11 L35.99 -0.37 L36.73 -0.00 L37.84 -0.00 L38.58 -0.37 L39.33 -1.11 L39.70 -2.23 L39.70 -2.97 L39.33 -4.08 L38.58 -4.82 L37.84 -5.19 L36.73 -5.19 M42.29 -5.19 L42.29 -0.00 M42.29 -3.71 L43.41 -4.82 L44.15 -5.19 L45.26 -5.19 L46.00 -4.82 L46.37 -3.71 L46.37 -0.00 M54.17 -7.79 L57.13 -0.00 M60.10 -7.79 L57.13 -0.00 M61.59 -2.97 L66.04 -2.97 L66.04 -3.71 L65.67 -4.45 L65.30 -4.82 L64.55 -5.19 L63.44 -5.19 L62.70 -4.82 L61.96 -4.08 L61.59 -2.97 L61.59 -2.23 L61.96 -1.11 L62.70 -0.37 L63.44 -0.00 L64.55 -0.00 L65.30 -0.37 L66.04 -1.11 M68.63 -7.79 L68.63 -0.00 M73.09 -5.19 L72.34 -4.82 L71.60 -4.08 L71.23 -2.97 L71.23 -2.23 L71.60 -1.11 L72.34 -0.37 L73.09 -0.00 L74.20 -0.00 L74.94 -0.37 L75.68 -1.11 L76.06 -2.23 L76.06 -2.97 L75.68 -4.08 L74.94 -4.82 L74.20 -5.19 L73.09 -5.19 M82.73 -4.08 L81.99 -4.82 L81.25 -5.19 L80.14 -5.19 L79.39 -4.82 L78.65 -4.08 L78.28 -2.97 L78.28 -2.23 L78.65 -1.11 L79.39 -0.37 L80.14 -0.00 L81.25 -0.00 L81.99 -0.37 L82.73 -1.11 M84.96 -7.79 L85.33 -7.42 L85.70 -7.79 L85.33 -8.16 L84.96 -7.79 M85.33 -5.19 L85.33 -0.00 M88.67 -7.79 L88.67 -1.48 L89.04 -0.37 L89.78 -0.00 L90.52 -0.00 M87.56 -5.19 L90.15 -5.19 M92.01 -5.19 L94.23 -0.00 M96.46 -5.19 L94.23 -0.00 L93.49 1.48 L92.75 2.23 L92.01 2.60 L91.64 2.60 M107.22 -9.28 L106.48 -8.53 L105.73 -7.42 L104.99 -5.94 L104.62 -4.08 L104.62 -2.60 L104.99 -0.74 L105.73 0.74 L106.48 1.85 L107.22 2.60 M109.82 -7.79 L109.82 -0.00 M113.53 -5.19 L109.82 -1.48 M111.30 -2.97 L113.90 -0.00 M116.12 -5.19 L116.12 -0.00 M116.12 -3.71 L117.24 -4.82 L117.98 -5.19 L119.09 -5.19 L119.83 -4.82 L120.20 -3.71 L120.20 -0.00 M120.20 -3.71 L121.32 -4.82 L122.06 -5.19 L123.17 -5.19 L123.91 -4.82 L124.29 -3.71 L124.29 -0.00 M136.90 -4.08 L136.53 -4.82 L135.42 -5.19 L134.30 -5.19 L133.19 -4.82 L132.82 -4.08 L133.19 -3.34 L133.93 -2.97 L135.79 -2.60 L136.53 -2.23 L136.90 -1.48 L136.90 -1.11 L136.53 -0.37 L135.42 -0.00 L134.30 -0.00 L133.19 -0.37 L132.82 -1.11 M140.62 -8.68 L144.62 -8.68 M149.16 -10.46 L149.61 -10.68 L150.28 -11.35 L150.28 -6.68 M153.39 -9.28 L154.14 -8.53 L154.88 -7.42 L155.62 -5.94 L155.99 -4.08 L155.99 -2.60 L155.62 -0.74 L154.88 0.74 L154.14 1.85 L153.39 2.60" fill="none" stroke="#585858" stroke-width="0.78" stroke-linecap="round" stroke-linejoin="round"/>
<path transform="translate(56.20 56.60)" d="M1.48 -7.79 L1.48 -2.23 L1.85 -1.11 L2.60 -0.37 L3.71 -0.00 L4.45 -0.00 L5.56 -0.37 L6.31 -1.11 L6.68 -2.23 L6.68 -7.79 M13.73 -5.19 L13.73 0.74 L13.36 1.85 L12.98 2.23 L12.24 2.60 L11.13 2.60 L10.39 2.23 M13.73 -4.08 L12.98 -4.82 L12.24 -5.19 L11.13 -5.19 L10.39 -4.82 L9.65 -4.08 L9.27 -2.97 L9.27 -2.23 L9.65 -1.11 L10.39 -0.37 L11.13 -0.00 L12.24 -0.00 L12.98 -0.37 L13.73 -1.11 M20.78 -4.08 L20.03 -4.82 L19.29 -5.19 L18.18 -5.19 L17.44 -4.82 L16.70 -4.08 L16.32 -2.97 L16.32 -2.23 L16.70 -1.11 L17.44 -0.37 L18.18 -0.00 L19.29 -0.00 L20.03 -0.37 L20.78 -1.11 M32.65 -7.79 L28.94 -2.60 L34.50 -2.60 M32.65 -7.79 L32.65 -0.00 M37.10 -7.79 L41.18 -7.79 L38.95 -4.82 L40.07 -4.82 L40.81 -4.45 L41.18 -4.08 L41.55 -2.97 L41.55 -2.23 L41.18 -1.11 L40.44 -0.37 L39.33 -0.00 L38.21 -0.00 L37.10 -0.37 L36.73 -0.74 L36.36 -1.48 M44.15 -5.94 L44.15 -6.31 L44.52 -7.05 L44.89 -7.42 L45.63 -7.79 L47.12 -7.79 L47.86 -7.42 L48.23 -7.05 L48.60 -6.31 L48.60 -5.56 L48.23 -4.82 L47.49 -3.71 L43.78 -0.00 L48.97 -0.00 M55.65 -7.79 L51.94 -7.79 L51.57 -4.45 L51.94 -4.82 L53.05 -5.19 L54.17 -5.19 L55.28 -4.82 L56.02 -4.08 L56.39 -2.97 L56.39 -2.23 L56.02 -1.11 L55.28 -0.37 L54.17 -0.00 L53.05 -0.00 L51.94 -0.37 L51.57 -0.74 L51.20 -1.48 M64.92 -3.34 L71.60 -3.34 M80.51 -7.79 L80.51 -0.00 M80.51 -7.79 L85.70 -0.00 M85.70 -7.79 L85.70 -0.00 M88.67 -7.79 L88.67 -0.00 M88.67 -7.79 L93.49 -7.79 M88.67 -4.08 L91.64 -4.08 M94.61 -7.79 L96.46 -0.00 M98.31 -7.79 L96.46 -0.00 M98.31 -7.79 L100.17 -0.00 M102.03 -7.79 L100.17 -0.00" fill="none" stroke="#585858" stroke-width="0.78" stroke-linecap="round" stroke-linejoin="round"/>
<path transform="translate(305.30 146.60)" d="M1.48 -7.79 L1.48 -0.00 M1.48 -7.79 L4.08 -7.79 L5.19 -7.42 L5.94 -6.68 L6.31 -5.94 L6.68 -4.82 L6.68 -2.97 L6.31 -1.85 L5.94 -1.11 L5.19 -0.37 L4.08 -0.00 L1.48 -0.00 M9.28 -7.79 L9.28 -0.00 M17.07 -6.68 L16.32 -7.42 L15.21 -7.79 L13.73 -7.79 L12.61 -7.42 L11.87 -6.68 L11.87 -5.94 L12.24 -5.19 L12.61 -4.82 L13.36 -4.45 L15.58 -3.71 L16.32 -3.34 L16.70 -2.97 L17.07 -2.23 L17.07 -1.11 L16.32 -0.37 L15.21 -0.00 L13.73 -0.00 L12.61 -0.37 L11.87 -1.11 M19.66 -7.79 L19.66 -0.00 M24.86 -7.79 L19.66 -2.60 M21.52 -4.45 L24.86 -0.00" fill="none" stroke="#2828ff" stroke-width="1.1" stroke-linecap="round" stroke-linejoin="round"/>
<path transform="translate(305.30 166.60)" d="M1.48 -7.79 L1.48 -0.00 M6.68 -7.79 L6.68 -0.00 M1.48 -4.08 L6.68 -4.08 M11.50 -7.79 L8.53 -0.00 M11.50 -7.79 L14.47 -0.00 M9.65 -2.60 L13.36 -2.60 M16.32 -7.79 L16.32 -0.00 M16.32 -0.00 L20.78 -0.00 M24.49 -7.79 L23.74 -7.42 L23.00 -6.68 L22.63 -5.94 L22.26 -4.82 L22.26 -2.97 L22.63 -1.85 L23.00 -1.11 L23.74 -0.37 L24.49 -0.00 L25.97 -0.00 L26.71 -0.37 L27.45 -1.11 L27.82 -1.85 L28.20 -2.97 L28.20 -4.82 L27.82 -5.94 L27.45 -6.68 L26.71 -7.42 L25.97 -7.79 L24.49 -7.79" fill="none" stroke="#18ff18" stroke-width="1.1" stroke-linecap="round" stroke-linejoin="round"/>
<path transform="translate(305.30 213.00)" d="M1.48 -7.79 L1.48 -0.00 M6.68 -7.79 L6.68 -0.00 M1.48 -4.08 L6.68 -4.08 M9.65 -7.79 L9.65 -0.00" fill="none" stroke="#18f0ff" stroke-width="1.1" stroke-linecap="round" stroke-linejoin="round"/>
</svg>
</body></html>
